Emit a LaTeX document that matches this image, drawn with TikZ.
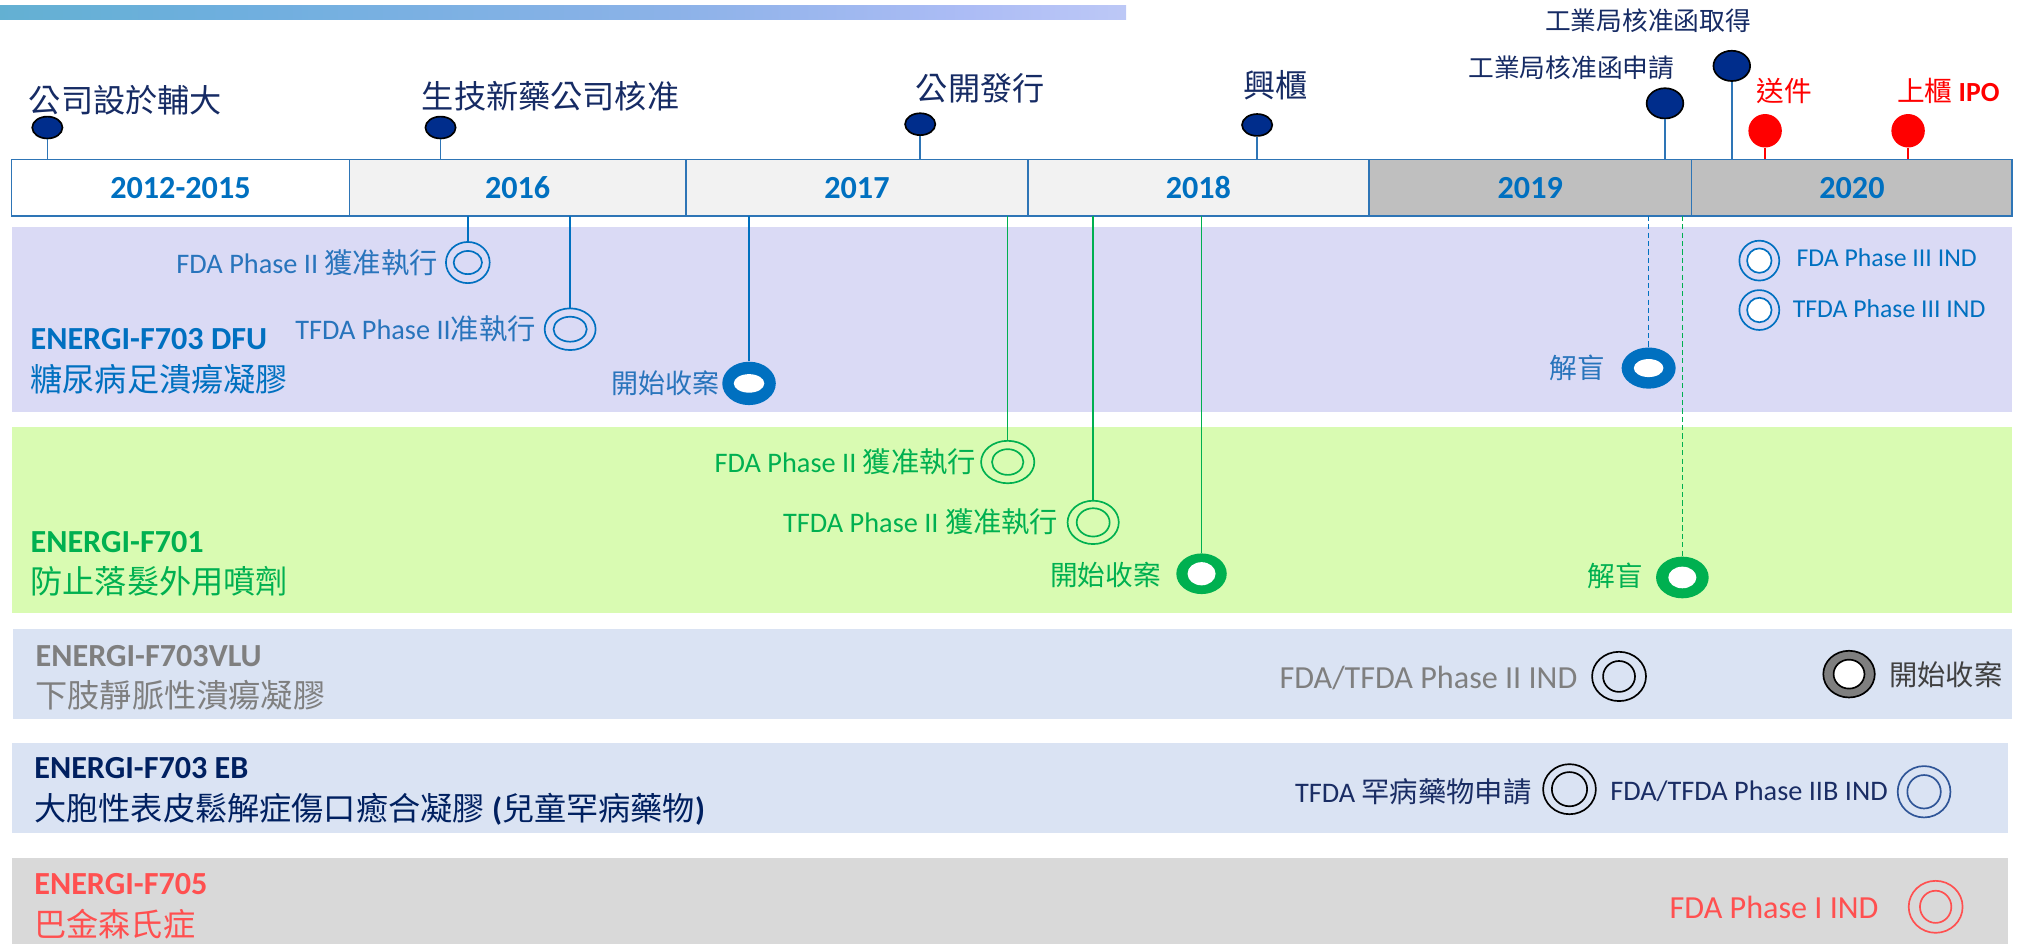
\documentclass[tikz,border=0pt]{standalone}
\usepackage{fontspec}
\setmainfont{Carlito}
\newfontfamily\cjk{Noto Sans CJK TC}
\usetikzlibrary{shapes.geometric}
\newcommand\zh[1]{{\cjk #1}}
\newcommand\fsz[1]{\fontsize{#1}{#1}\selectfont}
\definecolor{tlblue}{RGB}{46,117,182}
\definecolor{yearblue}{RGB}{0,112,192}
\definecolor{lightfill}{RGB}{242,242,242}
\definecolor{darkfill}{RGB}{191,191,191}
\definecolor{marknavy}{RGB}{0,45,140}
\definecolor{topnavy}{RGB}{22,43,100}
\definecolor{redmark}{RGB}{255,0,0}
\definecolor{bgone}{RGB}{218,218,245}
\definecolor{bgtwo}{RGB}{217,251,178}
\definecolor{bgthree}{RGB}{218,227,243}
\definecolor{bgfive}{RGB}{217,217,217}
\definecolor{dfublue}{RGB}{0,112,192}
\definecolor{dfulab}{RGB}{40,116,188}
\definecolor{hairgreen}{RGB}{0,176,80}
\definecolor{vlugray}{RGB}{127,127,127}
\definecolor{textdark}{RGB}{64,64,64}
\definecolor{ebnavy}{RGB}{0,32,96}
\definecolor{eblab}{RGB}{26,45,100}
\definecolor{ebblue}{RGB}{47,85,151}
\definecolor{pdred}{RGB}{255,80,80}
\definecolor{gA}{RGB}{55,170,105}
\definecolor{gB}{RGB}{70,178,160}
\definecolor{gC}{RGB}{85,178,195}
\definecolor{gD}{RGB}{110,175,222}
\definecolor{gE}{RGB}{140,178,232}
\definecolor{gF}{RGB}{172,188,245}
\definecolor{gG}{RGB}{212,217,248}
\definecolor{gH}{RGB}{236,237,252}
\pgfdeclarehorizontalshading{topbar}{100bp}{color(0bp)=(gA); color(4bp)=(gB); color(12bp)=(gC); color(35bp)=(gD); color(55bp)=(gE); color(68bp)=(gF); color(85bp)=(gG); color(100bp)=(gH)}
\tikzset{
 yearbox/.style={draw=tlblue, line width=1.2pt, minimum height=44pt, inner sep=0pt, outer sep=0pt, font=\fsz{25}\bfseries, text=yearblue},
 topmark/.style={ellipse, draw=black, line width=1.3pt, fill=marknavy, inner sep=0pt, minimum width=23.5pt, minimum height=17pt},
 bigmark/.style={topmark, minimum width=28.5pt, minimum height=23.5pt},
 redpin/.style={circle, fill=redmark, inner sep=0pt, minimum size=26pt},
 stem/.style={line width=1.2pt},
 dstem/.style={line width=1.1pt, dash pattern=on 4pt off 2.5pt},
 lab/.style={inner sep=0pt, outer sep=0pt},
 dring/.style n args={5}{ellipse, draw=#1, line width=1.3pt, inner sep=0pt, minimum width=#2, minimum height=#3, path picture={\draw[#1, line width=1.3pt] (path picture bounding box.center) ellipse [x radius=#4, y radius=#5];}},
 dringw/.style n args={5}{ellipse, draw=#1, line width=1.3pt, inner sep=0pt, minimum width=#2, minimum height=#3, path picture={\filldraw[fill=white, draw=#1, line width=1.3pt] (path picture bounding box.center) ellipse [x radius=#4, y radius=#5];}},
 ring/.style n args={5}{ellipse, fill=#1, inner sep=0pt, minimum width=#2, minimum height=#3, path picture={\fill[white] (path picture bounding box.center) ellipse [x radius=#4, y radius=#5];}}
}
\begin{document}
\begin{tikzpicture}[x=1pt,y=-1pt]
\useasboundingbox (0,0) rectangle (1568,733.5);
\shade[shading=topbar] (0,4) rectangle (875,15.5);
% row backgrounds
\fill[bgone] (9,176.6) rectangle (1563.5,320.5);
\fill[bgtwo] (9,332) rectangle (1563.5,476);
\fill[bgthree] (9.8,489) rectangle (1563,559);
\fill[bgthree] (9,577.6) rectangle (1560,647.5);
\fill[bgfive] (9,667) rectangle (1560,733.5);
% timeline
\node[yearbox, fill=white, minimum width=262.4pt] (y1) at (140.2,145.8) {2012-2015};
\node[yearbox, fill=lightfill, minimum width=261.6pt] (y2) at (402.2,145.8) {2016};
\node[yearbox, fill=lightfill, minimum width=265.7pt] (y3) at (665.85,145.8) {2017};
\node[yearbox, fill=lightfill, minimum width=264.9pt] (y4) at (931.15,145.8) {2018};
\node[yearbox, fill=darkfill, minimum width=250.8pt] (y5) at (1189,145.8) {2019};
\node[yearbox, fill=darkfill, minimum width=249.1pt] (y6) at (1438.95,145.8) {2020};
% top milestones
\node[topmark] (m1) at (36.8,99.1) {};
\node[topmark] (m2) at (342.3,99.1) {};
\node[topmark] (m3) at (715,96.5) {};
\node[topmark] (m4) at (976.8,97.1) {};
\node[bigmark] (m5) at (1293.7,80.3) {};
\node[bigmark] (m6) at (1345.6,51.2) {};
\node[redpin] (m7) at (1371.5,101.6) {};
\node[redpin] (m8) at (1482.6,101.6) {};
\draw[stem, tlblue] (m1.south) -- (m1 |- y1.north);
\draw[stem, tlblue] (m2.south) -- (m2 |- y2.north);
\draw[stem, tlblue] (m3.south) -- (m3 |- y3.north);
\draw[stem, tlblue] (m4.south) -- (m4 |- y4.north);
\draw[stem, tlblue] (m5.south) -- (m5 |- y5.north);
\draw[stem, tlblue] (m6.south) -- (m6 |- y6.north);
\draw[stem, redmark] (m7.south) -- (m7 |- y6.north);
\draw[stem, redmark] (m8.south) -- (m8 |- y6.north);
\node[lab, anchor=west, text=topnavy, font=\fsz{25}] (n1) at (22.5,77.7) {\zh{公司設於輔大}};
\node[lab, anchor=west, text=topnavy, font=\fsz{25}] (n2) at (327.8,74.5) {\zh{生技新藥公司核准}};
\node[lab, anchor=west, text=topnavy, font=\fsz{25}] (n3) at (711.7,69) {\zh{公開發行}};
\node[lab, anchor=west, text=topnavy, font=\fsz{25}] (n4) at (966.2,66) {\zh{興櫃}};
\node[lab, anchor=west, text=topnavy, font=\fsz{20}] (n5) at (1141,53) {\zh{工業局核准函申請}};
\node[lab, anchor=west, text=topnavy, font=\fsz{20}] (n6) at (1200.5,16) {\zh{工業局核准函取得}};
\node[lab, anchor=west, text=redmark, font=\fsz{21.5}] (n7) at (1365,70.5) {\zh{送件}};
\node[lab, anchor=west, text=redmark, font=\fsz{21.5}] (n8) at (1474,70.5) {\zh{上櫃} \textbf{IPO}};
% row titles
\node[lab, anchor=west, text=dfublue, font=\fsz{25}\bfseries] (t1a) at (23.8,263.5) {ENERGI-F703 DFU};
\node[lab, anchor=west, text=dfublue, font=\fsz{25}] (t1b) at (23.8,294.5) {\zh{糖尿病足潰瘍凝膠}};
\node[lab, anchor=west, text=hairgreen, font=\fsz{25}\bfseries] (t2a) at (23.8,421) {ENERGI-F701};
\node[lab, anchor=west, text=hairgreen, font=\fsz{25}] (t2b) at (23.8,452) {\zh{防止落髮外用噴劑}};
\node[lab, anchor=west, text=vlugray, font=\fsz{25}\bfseries] (t3a) at (27.7,510) {ENERGI-F703VLU};
\node[lab, anchor=west, text=vlugray, font=\fsz{25}] (t3b) at (27.7,540) {\zh{下肢靜脈性潰瘍凝膠}};
\node[lab, anchor=west, text=ebnavy, font=\fsz{25}\bfseries] (t4a) at (26.7,597) {ENERGI-F703 EB};
\node[lab, anchor=west, text=ebnavy, font=\fsz{25}] (t4b) at (26.7,629) {\zh{大胞性表皮鬆解症傷口癒合凝膠} \textbf{(}\zh{兒童罕病藥物}\textbf{)}};
\node[lab, anchor=west, text=pdred, font=\fsz{25}\bfseries] (t5a) at (26.7,687) {ENERGI-F705};
\node[lab, anchor=west, text=pdred, font=\fsz{25}] (t5b) at (26.7,718) {\zh{巴金森氏症}};
% row 1 events
\node[dring={dfublue}{34pt}{32pt}{11pt}{9pt}] (e11) at (363.5,204) {};
\node[dring={dfublue}{39.6pt}{32.4pt}{12.9pt}{9.7pt}] (e12) at (443,255.8) {};
\node[ring={dfublue}{41.6pt}{33.7pt}{11.9pt}{7.2pt}] (e13) at (582,297.9) {};
\node[ring={dfublue}{42pt}{32pt}{11.5pt}{7pt}] (e14) at (1281,286) {};
\node[dringw={dfublue}{31pt}{31pt}{9.5pt}{9.5pt}] (e15) at (1367,202.5) {};
\node[dringw={dfublue}{31pt}{31pt}{9.5pt}{9.5pt}] (e16) at (1367,240.9) {};
\draw[stem, dfublue] (e11 |- y2.south) -- (e11.north);
\draw[stem, dfublue] (e12 |- y2.south) -- (e12.north);
\draw[stem, dfublue] (e13 |- y3.south) -- (e13.north);
\draw[dstem, dfublue] (e14 |- y5.south) -- (e14.north);
\node[lab, anchor=east, text=dfulab, font=\fsz{22}] (l11) at (340.2,204) {FDA Phase II \zh{獲准執行}};
\node[lab, anchor=east, text=dfulab, font=\fsz{22}] (l12) at (416.3,255.8) {TFDA Phase II\zh{准執行}};
\node[lab, anchor=east, text=dfulab, font=\fsz{21}] (l13) at (559,297.7) {\zh{開始收案}};
\node[lab, anchor=east, text=dfulab, font=\fsz{21.5}] (l14) at (1247,285.5) {\zh{解盲}};
\node[lab, anchor=west, text=dfublue, font=\fsz{20}] (l15) at (1396,200.5) {FDA Phase III IND};
\node[lab, anchor=west, text=dfublue, font=\fsz{20}] (l16) at (1393,239.5) {TFDA Phase III IND};
% row 2 events
\node[dring={hairgreen}{41.4pt}{33pt}{12.2pt}{10pt}] (e21) at (783,359) {};
\node[dring={hairgreen}{39.8pt}{33.7pt}{12.8pt}{11pt}] (e22) at (849.4,405.9) {};
\node[ring={hairgreen}{39.2pt}{31.6pt}{10.9pt}{9pt}] (e23) at (933.6,445.8) {};
\node[ring={hairgreen}{40.9pt}{32.4pt}{10.9pt}{8.4pt}] (e24) at (1307.2,448.7) {};
\draw[stem, hairgreen] (e21 |- y3.south) -- (e21.north);
\draw[stem, hairgreen] (e22 |- y4.south) -- (e22.north);
\draw[stem, hairgreen] (e23 |- y4.south) -- (e23.north);
\draw[dstem, hairgreen] (e24 |- y5.south) -- (e24.north);
\node[lab, anchor=east, text=hairgreen, font=\fsz{22}] (l21) at (758.4,358.8) {FDA Phase II \zh{獲准執行}};
\node[lab, anchor=east, text=hairgreen, font=\fsz{22}] (l22) at (822.3,405.4) {TFDA Phase II \zh{獲准執行}};
\node[lab, anchor=east, text=hairgreen, font=\fsz{21.5}] (l23) at (902,446.8) {\zh{開始收案}};
\node[lab, anchor=east, text=hairgreen, font=\fsz{21.5}] (l24) at (1276.4,447.6) {\zh{解盲}};
% row 3 events
\node[dring={black}{41.9pt}{38.3pt}{12.4pt}{12pt}] (e31) at (1258,525.6) {};
\node[ellipse, draw=black, line width=1.3pt, fill=vlugray, inner sep=0pt, minimum width=40pt, minimum height=36.3pt, path picture={\filldraw[fill=white, draw=black, line width=1.3pt] (path picture bounding box.center) ellipse [x radius=12pt, y radius=11.25pt];}] (e32) at (1436.7,523.8) {};
\node[lab, anchor=east, text=vlugray, font=\fsz{25}] (l31) at (1225.6,527) {FDA/TFDA Phase II IND};
\node[lab, anchor=west, text=textdark, font=\fsz{22}] (l32) at (1468,524.6) {\zh{開始收案}};
% row 4 events
\node[dring={black}{41pt}{38.9pt}{13.7pt}{13.3pt}] (e41) at (1219.5,613.2) {};
\node[dring={ebblue}{41pt}{39.9pt}{13pt}{13pt}] (e42) at (1495,615.2) {};
\node[lab, anchor=east, text=eblab, font=\fsz{22}] (l41) at (1190,615.2) {TFDA \zh{罕病藥物申請}};
\node[lab, anchor=east, text=eblab, font=\fsz{22}] (l42) at (1466.8,615.2) {FDA/TFDA Phase IIB IND};
% row 5 events
\node[dring={pdred}{41.9pt}{40.4pt}{12.2pt}{12.5pt}] (e51) at (1504,704.6) {};
\node[lab, anchor=east, text=pdred, font=\fsz{25}] (l51) at (1459.6,705.1) {FDA Phase I IND};
\end{tikzpicture}
\end{document}
